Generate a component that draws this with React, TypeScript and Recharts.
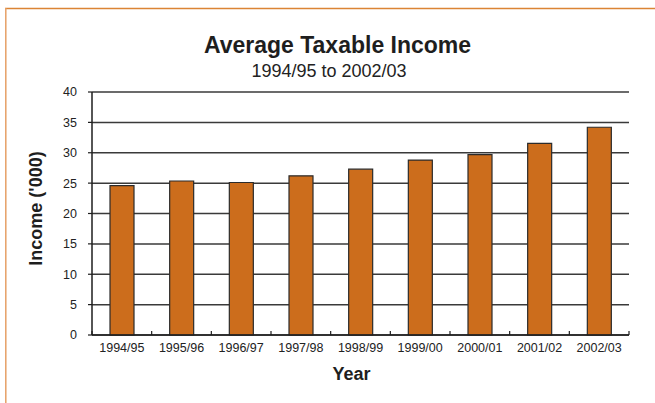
import { BarChart, Bar, XAxis, YAxis, CartesianGrid } from "recharts"

const YEARS = ["1994/95", "1995/96", "1996/97", "1997/98", "1998/99", "1999/00", "2000/01", "2001/02", "2002/03"]
const INCOME = [24.6, 25.35, 25.1, 26.2, 27.3, 28.8, 29.7, 31.55, 34.2]
const Y_TICKS = [0, 5, 10, 15, 20, 25, 30, 35, 40]

const FONT = "'Liberation Sans', Arial, sans-serif"
const BAR_FILL = "#CC6D1C"
const INK = "#1e1e1e"

const data = YEARS.map((year, i) => ({ year, income: INCOME[i] }))

// x ticks sit on the category boundaries and point up into the plot
function YearTick(props: any) {
  const { x, y, payload, index } = props
  const half = payload?.offset ?? (655 - 92 - 26) / YEARS.length / 2
  const last = index === YEARS.length - 1
  return (
    <g>
      <line x1={x - half} x2={x - half} y1={y} y2={y - 4} stroke={INK} strokeWidth={1.2} />
      {last && <line x1={x + half} x2={x + half} y1={y} y2={y - 4} stroke={INK} strokeWidth={1.2} />}
      <text x={x} y={y + 17} textAnchor="middle" fontSize={12.5} fill="#222" fontFamily={FONT}>
        {payload.value}
      </text>
    </g>
  )
}

export default function App() {
  return (
    <div style={{ position: "relative", width: 655, height: 403, background: "#fff", fontFamily: FONT }}>
      <style>{`body{margin:0}`}</style>
      <BarChart
        width={655}
        height={403}
        data={data}
        margin={{ top: 92, right: 26, bottom: 38, left: 32 }}
      >
        <CartesianGrid vertical={false} stroke="#3a3a3a" strokeWidth={1.5} />
        <XAxis
          dataKey="year"
          height={30}
          tickSize={0}
          tickMargin={0}
          tickLine={false}
          axisLine={{ stroke: INK, strokeWidth: 1.5 }}
          tick={<YearTick />}
          interval={0}
        />
        <YAxis
          width={60}
          domain={[0, 40]}
          ticks={Y_TICKS}
          tickSize={4}
          tickMargin={11}
          axisLine={{ stroke: INK, strokeWidth: 1.5 }}
          tickLine={{ stroke: INK, strokeWidth: 1.2 }}
          tick={{ fill: "#222", fontSize: 12.5, fontFamily: FONT }}
        />
        <Bar
          dataKey="income"
          fill={BAR_FILL}
          stroke="#2b2b2b"
          strokeWidth={1.2}
          barSize={24}
          isAnimationActive={false}
        />
      </BarChart>
      <svg
        width={655}
        height={403}
        style={{ position: "absolute", left: 0, top: 0, pointerEvents: "none" }}
      >
        <line x1={5} x2={655} y1={8.5} y2={8.5} stroke="#DB8434" strokeWidth={1.5} />
        <line x1={5.8} x2={5.8} y1={8} y2={403} stroke="#E6A066" strokeWidth={1.5} />
        <text x={337.5} y={53} textAnchor="middle" fontSize={23} fontWeight="bold" fill={INK} fontFamily={FONT}>
          Average Taxable Income
        </text>
        <text x={329} y={76.5} textAnchor="middle" fontSize={18} fill="#222" fontFamily={FONT}>
          1994/95 to 2002/03
        </text>
        <text
          x={42}
          y={208.5}
          textAnchor="middle"
          fontSize={18}
          fontWeight="bold"
          fill={INK}
          fontFamily={FONT}
          transform="rotate(-90 42 208.5)"
        >
          Income ('000)
        </text>
        <text x={351.5} y={380} textAnchor="middle" fontSize={18} fontWeight="bold" fill={INK} fontFamily={FONT}>
          Year
        </text>
      </svg>
    </div>
  )
}
